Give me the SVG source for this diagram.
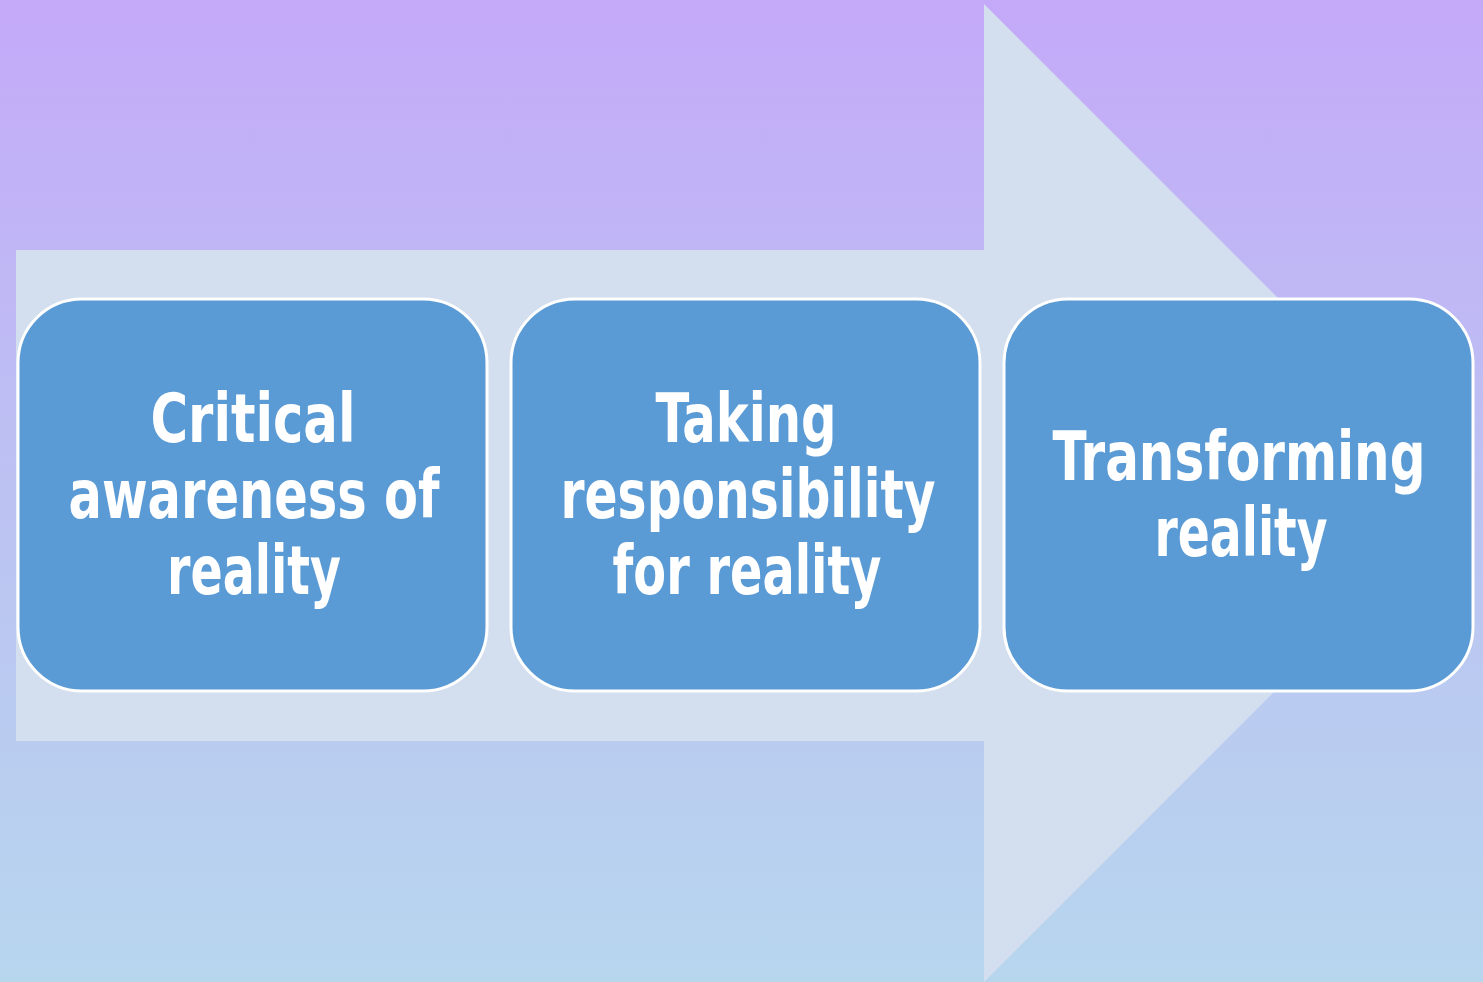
<svg xmlns="http://www.w3.org/2000/svg" width="1483" height="982" viewBox="0 0 1483 982">
<defs>
<linearGradient id="bg" x1="0" y1="0" x2="0" y2="1">
<stop offset="0" stop-color="#C4A9F9"/>
<stop offset="0.5" stop-color="#BCC2F2"/>
<stop offset="1" stop-color="#B7D6EE"/>
</linearGradient>
<style>
.box{fill:#5B9BD5;stroke:#FFFFFF;stroke-width:3}
.lbl{font-family:"Liberation Sans Narrow","DejaVu Sans Condensed","Liberation Sans",sans-serif;font-weight:bold;font-size:67px;fill:#FFFFFF;text-anchor:middle}
</style>
</defs>
<rect x="0" y="0" width="1483" height="982" fill="url(#bg)"/>
<polygon points="16,250 984,250 984,4 1473,493 984,982 984,741 16,741" fill="#D3DEEE"/>
<g id="connectors"></g>
<g id="node1">
<rect class="box" x="18" y="299" width="469" height="392" rx="64" ry="64"/>
<text class="lbl" x="253" y="442" textLength="205" lengthAdjust="spacingAndGlyphs">Critical</text>
<text class="lbl" x="254" y="518" textLength="371" lengthAdjust="spacingAndGlyphs">awareness of</text>
<text class="lbl" x="254" y="594" textLength="174" lengthAdjust="spacingAndGlyphs">reality</text>
</g>
<g id="node2">
<rect class="box" x="511" y="299" width="469" height="392" rx="64" ry="64"/>
<text class="lbl" x="746" y="442" textLength="181" lengthAdjust="spacingAndGlyphs">Taking</text>
<text class="lbl" x="748" y="518" textLength="375" lengthAdjust="spacingAndGlyphs">responsibility</text>
<text class="lbl" x="747" y="594" textLength="269" lengthAdjust="spacingAndGlyphs">for reality</text>
</g>
<g id="node3">
<rect class="box" x="1004" y="299" width="469" height="392" rx="64" ry="64"/>
<text class="lbl" x="1239" y="480" textLength="373" lengthAdjust="spacingAndGlyphs">Transforming</text>
<text class="lbl" x="1241" y="556" textLength="173" lengthAdjust="spacingAndGlyphs">reality</text>
</g>
</svg>
